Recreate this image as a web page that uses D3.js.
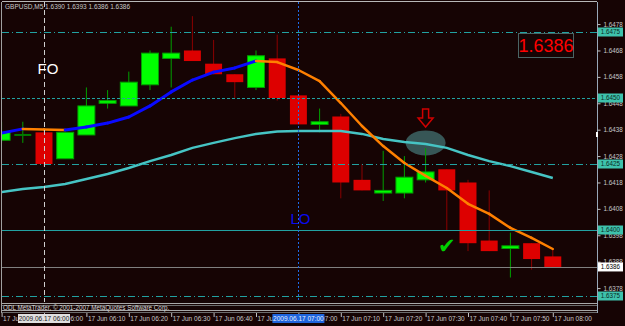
<!DOCTYPE html>
<html>
<head>
<meta charset="utf-8">
<script src="https://cdnjs.cloudflare.com/ajax/libs/d3/7.8.5/d3.min.js"></script>
<style>
    html, body { margin: 0; padding: 0; background: #160404; }
    svg { display: block; }
    text { font-family: 'Liberation Sans', Arial, sans-serif; }
</style>
</head>
<body>
<div id="chart"></div>
<script>
// GBPUSD M5, 17 Jun 2009
const symbol = 'GBPUSD,M5';
const day = '2009.06.17';
const times = ['05:50', '05:55', '06:00', '06:05', '06:10', '06:15', '06:20', '06:25', '06:30',
    '06:35', '06:40', '06:45', '06:50', '06:55', '07:00', '07:05', '07:10', '07:15', '07:20',
    '07:25', '07:30', '07:35', '07:40', '07:45', '07:50', '07:55', '08:00'];
const open  = [1.6434, 1.6436, 1.6437, 1.6427, 1.6436, 1.6448, 1.6447, 1.6455, 1.6465,
    1.6468, 1.6463, 1.6459, 1.6454, 1.6465, 1.6451, 1.6440, 1.6443, 1.6419, 1.6414,
    1.6414, 1.6419, 1.6423, 1.6418, 1.6396, 1.6393, 1.6395, 1.6390];
const high  = [1.6441, 1.6441, 1.6438, 1.6437, 1.6454, 1.6453, 1.6460, 1.6468, 1.6477,
    1.6481, 1.6472, 1.6459, 1.6468, 1.6474, 1.6451, 1.6446, 1.6444, 1.6425, 1.6430,
    1.6428, 1.6431, 1.6423, 1.6419, 1.6415, 1.6399, 1.6395, 1.6393];
const low   = [1.6433, 1.6433, 1.6424, 1.6427, 1.6436, 1.6446, 1.6447, 1.6453, 1.6454,
    1.6464, 1.6459, 1.6450, 1.6453, 1.6449, 1.6440, 1.6437, 1.6412, 1.6415, 1.6411,
    1.6412, 1.6418, 1.6400, 1.6392, 1.6392, 1.6382, 1.6385, 1.6386];
const close = [1.6437, 1.6436, 1.6425, 1.6437, 1.6447, 1.6449, 1.6456, 1.6467, 1.6467,
    1.6464, 1.6459, 1.6456, 1.6466, 1.6450, 1.6440, 1.6441, 1.6418, 1.6415, 1.6415,
    1.6420, 1.6422, 1.6415, 1.6395, 1.6392, 1.6394, 1.6389, 1.6386];

// moving averages (fast one is coloured by direction)
const maFast = [1.64367, 1.64383, 1.64381, 1.64379, 1.64390, 1.64405, 1.64428, 1.64470, 1.64523,
    1.64568, 1.64598, 1.64614, 1.64640, 1.64636, 1.64606, 1.64564, 1.64481, 1.64394, 1.64318,
    1.64254, 1.64205, 1.64159, 1.64099, 1.64061, 1.64008, 1.63970, 1.63928];
const maSlow = [1.64144, 1.64155, 1.64163, 1.64174, 1.64193, 1.64212, 1.64235, 1.64261, 1.64284,
    1.64311, 1.64330, 1.64348, 1.64364, 1.64373, 1.64375, 1.64375, 1.64375, 1.64364, 1.64345,
    1.64333, 1.64326, 1.64311, 1.64284, 1.64261, 1.64242, 1.64220, 1.64197];

const priceTicks = [1.6478, 1.6468, 1.6458, 1.6448, 1.6438, 1.6428, 1.6418, 1.6408, 1.6398, 1.6388, 1.6378];
const timeTicks = ['05:50', '06:00', '06:10', '06:20', '06:30', '06:40', '06:50', '07:00',
    '07:10', '07:20', '07:30', '07:40', '07:50', '08:00'];
const levelPrices = [1.6475, 1.6450, 1.6425, 1.6400, 1.6375];
const levelKinds  = ['dashdot', 'dot', 'dashdot', 'solid', 'dashdot'];
const markTimes = ['06:00', '07:00'];
const notes = [
    { text: 'FO', time: '06:00', price: 1.6461 },
    { text: 'LO', time: '07:00', price: 1.64044 }
];
const circleAt = { time: '07:30', price: 1.6433 };
const arrowAt  = { time: '07:30', price: 1.6439 };
const checkAt  = { time: '07:35', price: 1.6394 };

const W = 625, H = 326;
const plot = { left: 2, right: 597, top: 2, bottom: 302 };
const parse = d3.timeParse('%Y.%m.%d %H:%M');
const T = s => parse(day + ' ' + s);
const fmtP = d3.format('.4f');
const fmtT = d3.timeFormat('%H:%M');

const bars = times.map((t, i) => ({
    t: T(t), o: open[i], h: high[i], l: low[i], c: close[i]
}));

const x = d3.scaleTime()
    .domain([T('06:00'), T('08:00')])
    .range([44, 552.8]);
const y = d3.scaleLinear()
    .domain([1.6475, 1.6400])
    .range([32, 230]);

const barW = (x(T('06:05')) - x(T('06:00'))) * 0.8;

const svg = d3.select('#chart').append('svg')
    .attr('width', W)
    .attr('height', H);

svg.append('rect').attr('width', W).attr('height', H).attr('fill', '#160404');

svg.append('clipPath').attr('id', 'clip')
    .append('rect')
    .attr('x', plot.left).attr('y', plot.top)
    .attr('width', plot.right - plot.left).attr('height', plot.bottom - plot.top);

const g = svg.append('g').attr('clip-path', 'url(#clip)');

// highlight ellipse (behind everything)
g.append('ellipse')
    .attr('cx', x(T(circleAt.time)))
    .attr('cy', y(circleAt.price))
    .attr('rx', 20)
    .attr('ry', 12.5)
    .attr('fill', '#3b5f5f')
    .attr('opacity', 0.9);

// candles
const up = d => d.c >= d.o;
g.selectAll('.wick')
    .data(bars)
    .enter()
    .append('line')
    .attr('x1', d => x(d.t)).attr('x2', d => x(d.t))
    .attr('y1', d => y(d.h)).attr('y2', d => y(d.l))
    .attr('stroke', d => up(d) ? '#00a000' : '#8b0000')
    .attr('stroke-width', 1);

g.selectAll('.body')
    .data(bars.filter(d => d.o !== d.c))
    .enter()
    .append('rect')
    .attr('x', d => x(d.t) - barW / 2)
    .attr('y', d => y(Math.max(d.o, d.c)))
    .attr('width', barW)
    .attr('height', d => Math.abs(y(d.o) - y(d.c)))
    .attr('fill', d => up(d) ? '#00ff00' : '#dd0000')
    .attr('stroke', d => up(d) ? '#00a000' : 'none')
    .attr('stroke-width', 1);

// doji: open == close
g.selectAll('.doji')
    .data(bars.filter(d => d.o === d.c))
    .enter()
    .append('line')
    .attr('x1', d => x(d.t) - barW / 2).attr('x2', d => x(d.t) + barW / 2)
    .attr('y1', d => y(d.o)).attr('y2', d => y(d.o))
    .attr('stroke', '#007a00')
    .attr('stroke-width', 2);

// slow MA
const line = d3.line().x(d => x(d[0])).y(d => y(d[1]));
g.append('path')
    .attr('d', line(bars.map((d, i) => [d.t, maSlow[i]])))
    .attr('fill', 'none')
    .attr('stroke', '#46c4c4')
    .attr('stroke-width', 2.5);

// fast MA, blue when rising, orange when falling
const segs = d3.pairs(bars.map((d, i) => [d.t, maFast[i]]));
g.selectAll('.ma')
    .data(segs)
    .enter()
    .append('path')
    .attr('d', s => line(s))
    .attr('fill', 'none')
    .attr('stroke', s => s[1][1] >= s[0][1] ? '#0a0aff' : '#ff8000')
    .attr('stroke-width', s => s[1][1] >= s[0][1] ? 3 : 2.5)
    .attr('stroke-linecap', 'round');

// horizontal levels
const dashes = { dashdot: '7,3,1,3', dot: '3,2', solid: null };
levelPrices.forEach((p, i) => {
    g.append('line')
        .attr('x1', plot.left).attr('x2', plot.right)
        .attr('y1', Math.round(y(p)) + 0.5).attr('y2', Math.round(y(p)) + 0.5)
        .attr('stroke', '#22a2a2')
        .attr('stroke-width', 1)
        .attr('stroke-dasharray', dashes[levelKinds[i]]);
});

// bid line
const bid = close[close.length - 1];
g.append('line')
    .attr('x1', plot.left).attr('x2', plot.right)
    .attr('y1', Math.round(y(bid)) + 0.5).attr('y2', Math.round(y(bid)) + 0.5)
    .attr('stroke', '#808080');

// vertical markers
markTimes.forEach((t, i) => {
    g.append('line')
        .attr('x1', Math.round(x(T(t))) + 0.5).attr('x2', Math.round(x(T(t))) + 0.5)
        .attr('y1', plot.top).attr('y2', plot.bottom)
        .attr('stroke', i === 0 ? '#cfcfcf' : '#1e6ae8')
        .attr('stroke-dasharray', i === 0 ? '5,3' : '2,2');
});

// arrow (outlined, pointing down)
const ax = x(T(arrowAt.time)), ay = y(arrowAt.price);
g.append('path')
    .attr('d', `M${ax},${ay} L${ax - 7.5},${ay - 9} L${ax - 3},${ay - 9} L${ax - 3},${ay - 18} ` +
        `L${ax + 3},${ay - 18} L${ax + 3},${ay - 9} L${ax + 7.5},${ay - 9} Z`)
    .attr('fill', 'none')
    .attr('stroke', '#d00000')
    .attr('stroke-width', 1.5);

// check mark
g.append('text')
    .attr('x', x(T(checkAt.time)))
    .attr('y', y(checkAt.price))
    .attr('dy', '0.35em')
    .attr('text-anchor', 'middle')
    .attr('font-family', "'DejaVu Sans', sans-serif")
    .attr('font-size', '21px')
    .attr('fill', '#00d000')
    .text('\u2714');

// FO / LO notes
notes.forEach((n, i) => {
    g.append('text')
        .attr('x', x(T(n.time)) + (i === 0 ? 4 : 2))
        .attr('y', y(n.price))
        .attr('dy', '0.36em')
        .attr('text-anchor', 'middle')
        .attr('font-size', '15px')
        .attr('fill', i === 0 ? '#ffffff' : '#0a0aee')
        .text(n.text);
});

// header
const last = bars[bars.length - 1];
svg.append('text')
    .attr('x', 5).attr('y', 9)
    .attr('font-size', '6.5px')
    .attr('fill', '#c8c8c8')
    .text(`${symbol}  ${fmtP(last.o)} ${fmtP(last.h)} ${fmtP(last.l)} ${fmtP(last.c)}`);

// big price label
svg.append('rect')
    .attr('x', 518.5).attr('y', 33.5).attr('width', 55).attr('height', 24)
    .attr('fill', 'none').attr('stroke', '#4a6464');
svg.append('text')
    .attr('x', 546).attr('y', 46)
    .attr('dy', '0.36em')
    .attr('text-anchor', 'middle')
    .attr('font-size', '18px')
    .attr('fill', '#ff0000')
    .text(fmtP(bid));

// frame and bottom strip
const frame = svg.append('g').attr('fill', 'none');
frame.append('line').attr('x1', 2).attr('x2', 597).attr('y1', 1.5).attr('y2', 1.5).attr('stroke', '#b8b8b8');
frame.append('line').attr('x1', 1.5).attr('x2', 1.5).attr('y1', 2).attr('y2', 313).attr('stroke', '#a0a0a0');
frame.append('line').attr('x1', 597.5).attr('x2', 597.5).attr('y1', 2).attr('y2', 313).attr('stroke', '#98a8b8');
[[303.5, '#a8a8a8'], [305.5, '#6c6c6c'], [310.5, '#a8a8a8'], [312.5, '#6c6c6c']].forEach(([yy, c]) => {
    frame.append('line').attr('x1', 2).attr('x2', 597).attr('y1', yy).attr('y2', yy).attr('stroke', c);
});
svg.append('text')
    .attr('x', 3).attr('y', 310)
    .attr('font-size', '6.3px')
    .attr('fill', '#d8d8d8')
    .text('ODL MetaTrader, \u00a9 2001-2007 MetaQuotes Software Corp.');

// right price axis
const yAxis = svg.append('g')
    .attr('transform', 'translate(597.5,0)')
    .call(d3.axisRight(y).tickValues(priceTicks).tickSize(3).tickPadding(3).tickFormat(fmtP));
yAxis.select('.domain').remove();
yAxis.selectAll('line').attr('stroke', '#c0c0c0');
yAxis.selectAll('text')
    .attr('fill', '#c8c8c8')
    .attr('font-size', '6.3px')
    .attr('font-family', "'Liberation Sans', Arial, sans-serif");

// shift marker
svg.append('rect').attr('x', 596).attr('y', 132).attr('width', 2).attr('height', 5).attr('fill', '#ffffff');

// level price boxes
const boxes = levelPrices.map(p => ({ p, fill: '#3ec2ac', color: '#0b2a26' }))
    .concat([{ p: bid, fill: '#ffffff', color: '#000000' }]);
boxes.forEach(b => {
    svg.append('rect')
        .attr('x', 598).attr('y', y(b.p) - 4.5)
        .attr('width', 25).attr('height', 9)
        .attr('fill', b.fill);
    svg.append('text')
        .attr('x', 610.5).attr('y', y(b.p))
        .attr('dy', '0.36em')
        .attr('text-anchor', 'middle')
        .attr('font-size', '6.3px')
        .attr('fill', b.color)
        .text(fmtP(b.p));
});

// bottom time axis
const xAxis = svg.append('g')
    .attr('transform', 'translate(0,313)')
    .call(d3.axisBottom(x).tickValues(timeTicks.map(T)).tickSize(4)
        .tickFormat(d => '17 Jun ' + fmtT(d)));
xAxis.select('.domain').remove();
xAxis.selectAll('line').attr('stroke', '#c0c0c0');
xAxis.selectAll('text')
    .attr('text-anchor', 'start')
    .attr('x', 1)
    .attr('y', 3)
    .attr('fill', '#c8c8c8')
    .attr('font-size', '6.5px')
    .attr('font-family', "'Liberation Sans', Arial, sans-serif");

// time boxes for the vertical markers
const timeFmt = d3.timeFormat('%Y.%m.%d %H:%M');
markTimes.forEach((t, i) => {
    const cx = x(T(t));
    svg.append('rect')
        .attr('x', cx - 26).attr('y', 314)
        .attr('width', 52).attr('height', 9)
        .attr('fill', i === 0 ? '#e0e0e0' : '#1e64dc');
    svg.append('text')
        .attr('x', cx).attr('y', 318.5)
        .attr('dy', '0.36em')
        .attr('text-anchor', 'middle')
        .attr('font-size', '6.5px')
        .attr('fill', i === 0 ? '#202020' : '#e8f0ff')
        .text(timeFmt(T(t)));
});
</script>
</body>
</html>
